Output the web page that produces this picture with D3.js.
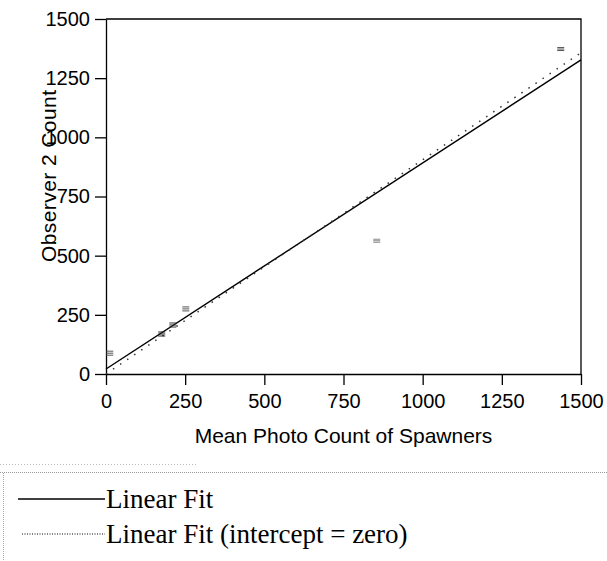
<!DOCTYPE html>
<html>
<head>
<meta charset="utf-8">
<script src="https://cdn.jsdelivr.net/npm/d3@7"></script>
<style>
  html, body { margin: 0; padding: 0; background: #fff; }
  svg { display: block; }
</style>
</head>
<body>
<div id="chart"></div>
<script>
"use strict";

// values
var meanPhoto = [12, 176, 211, 252, 855, 1436];
var observer2 = [88, 169, 207, 275, 563, 1373];
var errHalf = [4, 4, 4, 4, 3, 3];
var pointShade = ["#555", "#222", "#333", "#555", "#888", "#555"];

var xTicks = [0, 250, 500, 750, 1000, 1250, 1500];
var yTicks = [0, 250, 500, 750, 1000, 1250, 1500];

var fitNames = ["Linear Fit", "Linear Fit (intercept = zero)"];
var fitIntercept = [21, 0];
var fitSlope = [0.871, 0.905];

(function () {
    var W = 607, H = 561;
    var mL = 106, mR = 581, mT = 19, mB = 374;

    var svg = d3.select("#chart").append("svg")
        .attr("width", W).attr("height", H);

    var x = d3.scaleLinear().domain([0, 1500]).range([mL, mR]);
    var y = d3.scaleLinear().domain([0, 1500]).range([mB, mT]);

    var font = "'Liberation Sans', Arial, sans-serif";
    var fmt = d3.format("d");

    // frame (top + right)
    svg.append("path")
        .attr("d", "M" + mL + "," + mT + "H" + mR + "V" + mB)
        .attr("fill", "none").attr("stroke", "#000").attr("stroke-width", 1.3);

    var xAxis = svg.append("g")
        .attr("transform", "translate(0," + mB + ")")
        .call(d3.axisBottom(x).tickValues(xTicks).tickFormat(fmt)
            .tickSize(11).tickSizeOuter(0).tickPadding(9));

    var yAxis = svg.append("g")
        .attr("transform", "translate(" + mL + ",0)")
        .call(d3.axisLeft(y).tickValues(yTicks).tickFormat(fmt)
            .tickSize(11).tickSizeOuter(0).tickPadding(5));

    [xAxis, yAxis].forEach(function (g) {
        g.selectAll("path, line").attr("stroke", "#000").attr("stroke-width", 1.3);
        g.selectAll("text").attr("font-family", font).attr("font-size", 20).attr("fill", "#000");
    });

    // fit lines
    var fits = fitNames.map(function (n, i) {
        return { name: n, a: fitIntercept[i], b: fitSlope[i], dotted: i === 1 };
    });

    svg.selectAll(".fit").data(fits).enter().append("line")
        .attr("class", "fit")
        .attr("x1", x(0))
        .attr("y1", function (d) { return y(d.a); })
        .attr("x2", x(1500))
        .attr("y2", function (d) { return y(d.a + d.b * 1500); })
        .attr("stroke", function (d) { return d.dotted ? "#333" : "#000"; })
        .attr("stroke-width", function (d) { return d.dotted ? 1.5 : 1.4; })
        .attr("stroke-dasharray", function (d) { return d.dotted ? "1.5,7" : null; });

    // data points drawn as small error bars
    var pts = meanPhoto.map(function (v, i) {
        return { x: v, y: observer2[i], e: errHalf[i], c: pointShade[i] };
    });

    svg.selectAll(".pt").data(pts).enter().append("g")
        .attr("class", "pt")
        .attr("transform", function (d) { return "translate(" + x(d.x) + "," + y(d.y) + ")"; })
        .each(function (d) {
            var g = d3.select(this);
            [-d.e / 2, 0, d.e / 2].forEach(function (dy) {
                g.append("line")
                    .attr("x1", -3.5).attr("x2", 3.5)
                    .attr("y1", dy).attr("y2", dy)
                    .attr("stroke", d.c).attr("stroke-width", 1);
            });
        });

    // axis titles
    svg.append("text")
        .attr("x", (mL + mR) / 2).attr("y", 443)
        .attr("text-anchor", "middle")
        .attr("font-family", font).attr("font-size", 21)
        .text("Mean Photo Count of Spawners");

    svg.append("text")
        .attr("transform", "translate(56,176) rotate(-90)")
        .attr("text-anchor", "middle")
        .attr("font-family", font).attr("font-size", 21)
        .attr("textLength", 172).attr("lengthAdjust", "spacing")
        .text("Observer 2 Count");

    // legend box edges (faint dotted, like a scanned frame)
    svg.append("line")
        .attr("x1", 0).attr("x2", 197).attr("y1", 464.5).attr("y2", 464.5)
        .attr("stroke", "#bbb").attr("stroke-width", 1).attr("stroke-dasharray", "1,2");
    svg.append("line")
        .attr("x1", 0).attr("x2", W).attr("y1", 472.5).attr("y2", 472.5)
        .attr("stroke", "#999").attr("stroke-width", 1).attr("stroke-dasharray", "1,1");
    svg.append("line")
        .attr("x1", 3.5).attr("x2", 3.5).attr("y1", 473).attr("y2", H)
        .attr("stroke", "#aaa").attr("stroke-width", 1).attr("stroke-dasharray", "1,1");

    var leg = svg.selectAll(".leg").data(fits).enter().append("g")
        .attr("class", "leg")
        .attr("transform", function (d, i) { return "translate(0," + (i === 0 ? 499 : 534) + ")"; });

    leg.append("line")
        .attr("x1", function (d) { return d.dotted ? 22 : 18; })
        .attr("x2", 105)
        .attr("stroke", "#000")
        .attr("stroke-width", function (d) { return d.dotted ? 1.2 : 1.4; })
        .attr("stroke-dasharray", function (d) { return d.dotted ? "1,1.5" : null; });

    leg.append("text")
        .attr("x", 106).attr("y", 9)
        .attr("font-family", "'Liberation Serif', 'Times New Roman', serif")
        .attr("font-size", 27)
        .text(function (d) { return d.name; });
})();
</script>
</body>
</html>
